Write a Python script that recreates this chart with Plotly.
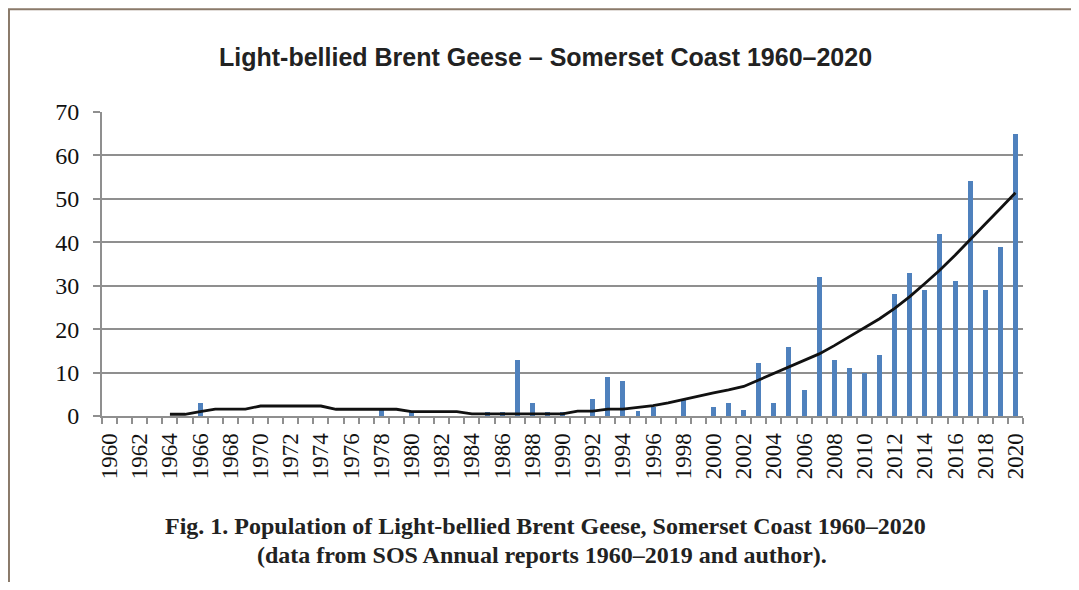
import plotly.graph_objects as go

years = list(range(1960, 2021))
counts = [0, 0, 0, 0, 0, 0, 3, 0, 0, 0,
          0, 0, 0, 0, 0, 0, 0, 0, 1.3, 0,
          1, 0, 0, 0, 0, 1, 1, 13, 3, 1,
          1, 0, 4, 9, 8, 1.2, 2, 0, 3.6, 0,
          2, 3, 1.3, 12.2, 3, 15.8, 6, 32, 13, 11,
          10, 14, 28, 33, 29, 42, 31, 54, 29, 39,
          65]
trend = [None, None, None, None, 0.4, 0.4, 1.0, 1.6, 1.6, 1.6,
         2.3, 2.3, 2.3, 2.3, 2.3, 1.55, 1.55, 1.55, 1.55, 1.55,
         1.0, 1.0, 1.0, 1.0, 0.5, 0.5, 0.5, 0.5, 0.5, 0.5,
         0.5, 1.1, 1.1, 1.6, 1.6, 2.0, 2.4, 3.0, 3.8, 4.5,
         5.3, 6.0, 6.8, 8.3, 9.8, 11.3, 12.8, 14.3, 16.2, 18.2,
         20.3, 22.4, 24.8, 27.5, 30.5, 33.6, 37.0, 40.5, 44.2, 47.8,
         51.4]
tick_years = list(range(1960, 2021, 2))
y_ticks = [0, 10, 20, 30, 40, 50, 60, 70]

title_text = "Light-bellied Brent Geese – Somerset Coast 1960–2020"
caption1 = "Fig. 1. Population of Light-bellied Brent Geese, Somerset Coast 1960–2020"
caption2 = "(data from SOS Annual reports 1960–2019 and author)."

fig = go.Figure()
fig.add_trace(go.Bar(x=years, y=counts, width=0.33,
                     marker=dict(color="#4F81BD", line=dict(width=0)),
                     showlegend=False))
fig.add_trace(go.Scatter(x=years, y=trend, mode="lines",
                         line=dict(color="#111111", width=2.8),
                         connectgaps=False, showlegend=False))

grid = "#8f8f8f"
serif = "Liberation Serif, Times New Roman, serif"
fig.update_layout(
    width=1071, height=574,
    margin=dict(l=94, r=56, t=104, b=165.5),
    paper_bgcolor="white", plot_bgcolor="white",
    bargap=0,
    xaxis=dict(range=[1959.5, 2020.5], tickmode="array", tickvals=tick_years,
               ticktext=[str(y) for y in tick_years], tickangle=-90,
               ticks="", showgrid=False, zeroline=False,
               showline=True, linecolor=grid, linewidth=2,
               tickfont=dict(family=serif, size=23, color="#111"),
               ticklabelstandoff=6, automargin=False,
               minor=dict(tickmode="linear", tick0=1959.5, dtick=1, ticks="outside",
                          ticklen=6, tickwidth=1.5, tickcolor=grid, showgrid=False)),
    yaxis=dict(range=[0, 70], tickmode="array", tickvals=y_ticks,
               showgrid=True, gridcolor=grid, gridwidth=2, zeroline=False,
               showline=True, linecolor=grid, linewidth=2,
               ticks="outside", ticklen=7, tickwidth=2, tickcolor=grid,
               ticklabelstandoff=9, automargin=False,
               tickfont=dict(family=serif, size=24, color="#111")),
)

fig.add_shape(type="rect", xref="paper", yref="paper",
              x0=-0.1010, x1=1.0543, y0=-0.70, y1=1.3383,
              line=dict(color="#8a7a6a", width=2), fillcolor="rgba(0,0,0,0)", layer="below")

fig.add_annotation(text="<b>" + title_text + "</b>", xref="paper", yref="paper",
                   x=0.481, y=1.1806, xanchor="center", yanchor="middle", showarrow=False,
                   font=dict(family="Liberation Sans, Arial, sans-serif", size=25, color="#222"))
fig.add_annotation(text="<b>" + caption1 + "</b>", xref="paper", yref="paper",
                   x=0.481, y=-0.363, xanchor="center", yanchor="middle", showarrow=False,
                   font=dict(family=serif, size=24, color="#222"))
fig.add_annotation(text="<b>" + caption2 + "</b>", xref="paper", yref="paper",
                   x=0.478, y=-0.458, xanchor="center", yanchor="middle", showarrow=False,
                   font=dict(family=serif, size=24, color="#222"))

fig.write_html("out.html")
